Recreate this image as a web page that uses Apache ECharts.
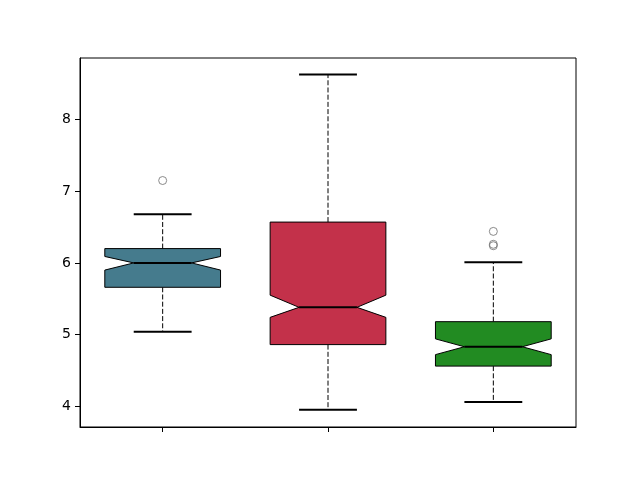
<!DOCTYPE html>
<html>
<head>
<meta charset="utf-8">
<script src="https://cdn.jsdelivr.net/npm/echarts@6/dist/echarts.min.js"></script>
<style>html,body{margin:0;padding:0;background:#fff}#c{width:640px;height:480px}</style>
</head>
<body>
<div id="c"></div>
<script>
const positions = [1, 2, 3];
const whiskerLow = [5.04, 3.95, 4.06];
const q1 = [5.66, 4.86, 4.56];
const notchLow = [5.90, 5.24, 4.72];
const median = [6.00, 5.38, 4.83];
const notchHigh = [6.09, 5.55, 4.94];
const q3 = [6.20, 6.57, 5.18];
const whiskerHigh = [6.68, 8.63, 6.01];
const outliers = [[7.15], [], [6.44, 6.26, 6.24]];
const yTicks = [4, 5, 6, 7, 8];

const boxColors = ['#457b8d', '#c3314a', '#228b22'];

const boxData = positions.map((p, i) => [p, whiskerLow[i], q1[i], notchLow[i], median[i], notchHigh[i], q3[i], whiskerHigh[i], i]);
const outlierData = [];
outliers.forEach((arr, i) => arr.forEach(v => outlierData.push([positions[i], v])));

function renderBox(params, api) {
  const x = api.value(0);
  const idx = api.value(8);
  const w = api.size([0.7, 0])[0];
  const half = w / 2;
  const capHalf = w / 4;
  const nIn = w / 4;
  const c = (v) => api.coord([x, v]);
  const cx = c(api.value(4))[0];
  const yWL = c(api.value(1))[1], yQ1 = c(api.value(2))[1], yNL = c(api.value(3))[1];
  const yMed = c(api.value(4))[1], yNH = c(api.value(5))[1], yQ3 = c(api.value(6))[1], yWH = c(api.value(7))[1];
  const xl = cx - half, xr = cx + half;
  const black = '#000';
  return {
    type: 'group',
    children: [
      { type: 'line', shape: { x1: cx, y1: yQ1, x2: cx, y2: yWL }, style: { stroke: black, lineWidth: 1, lineDash: [5, 2.2] } },
      { type: 'line', shape: { x1: cx, y1: yQ3, x2: cx, y2: yWH }, style: { stroke: black, lineWidth: 1, lineDash: [5, 2.2] } },
      { type: 'line', shape: { x1: cx - capHalf, y1: yWL, x2: cx + capHalf, y2: yWL }, style: { stroke: black, lineWidth: 2 } },
      { type: 'line', shape: { x1: cx - capHalf, y1: yWH, x2: cx + capHalf, y2: yWH }, style: { stroke: black, lineWidth: 2 } },
      { type: 'polygon', shape: { points: [
          [xl, yQ1], [xr, yQ1], [xr, yNL], [cx + nIn, yMed], [xr, yNH], [xr, yQ3],
          [xl, yQ3], [xl, yNH], [cx - nIn, yMed], [xl, yNL]
        ] }, style: { fill: boxColors[idx], stroke: black, lineWidth: 1 } },
      { type: 'line', shape: { x1: cx - nIn, y1: yMed, x2: cx + nIn, y2: yMed }, style: { stroke: black, lineWidth: 2 } }
    ]
  };
}

const chart = echarts.init(document.getElementById('c'), null, { renderer: 'canvas' });
chart.setOption({
  animation: false,
  backgroundColor: '#fff',
  grid: { left: 80, right: 64, top: 58, bottom: 53, show: true, borderColor: '#000', borderWidth: 1, backgroundColor: 'transparent' },
  xAxis: {
    type: 'value', min: 0.5, max: 3.5,
    axisLine: { show: true, lineStyle: { color: '#000', width: 1 } },
    axisTick: { show: true, length: 5, lineStyle: { color: '#000' }, customValues: positions },
    axisLabel: { show: false },
    splitLine: { show: false }
  },
  yAxis: {
    type: 'value', min: 3.71, max: 8.86,
    axisLine: { show: true, lineStyle: { color: '#000', width: 1 } },
    axisTick: { show: true, length: 5, lineStyle: { color: '#000' }, customValues: yTicks },
    axisLabel: { show: true, customValues: yTicks, color: '#000', fontSize: 14, fontFamily: 'DejaVu Sans', margin: 9 },
    splitLine: { show: false }
  },
  series: [
    { type: 'custom', renderItem: renderBox, data: boxData, encode: { x: 0, y: [1, 2, 3, 4, 5, 6, 7] }, z: 2 },
    { type: 'scatter', data: outlierData, symbol: 'circle', symbolSize: 8,
      itemStyle: { color: 'rgba(0,0,0,0)', borderColor: '#6e6e6e', borderWidth: 1 }, z: 3 }
  ]
});
</script>
</body>
</html>
